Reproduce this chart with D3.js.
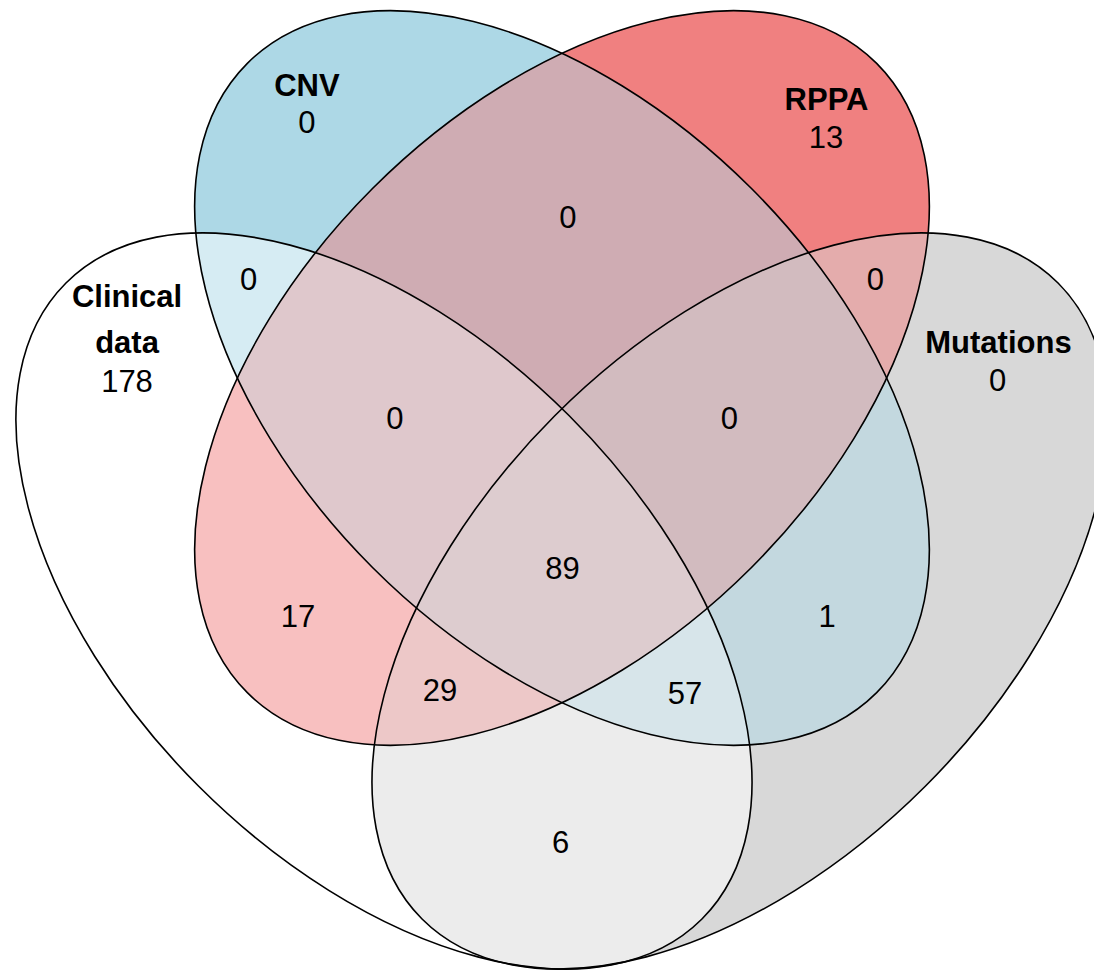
<!DOCTYPE html>
<html>
<head>
<meta charset="utf-8">
<title>Venn | D3</title>
<script src="https://d3js.org/d3.v7.min.js"></script>
<style>
body { margin: 0; background: #fff; }
text { font-family: "Liberation Sans", Arial, Helvetica, sans-serif; fill: #000; }
.setname { font-weight: bold; }
</style>
</head>
<body>
<script>
// data
var setNames = ["Clinical data", "CNV", "RPPA", "Mutations"];
var setColors = ["#ffffff", "#add8e6", "#f08080", "#d8d8d8"];
var regionSets = [
  [0], [1], [2], [3],
  [0, 1], [1, 2], [2, 3], [0, 2], [1, 3], [0, 3],
  [0, 1, 2], [1, 2, 3], [0, 2, 3], [0, 1, 3],
  [0, 1, 2, 3]
];
var regionCounts = [178, 0, 13, 0, 0, 0, 0, 17, 1, 6, 0, 0, 29, 57, 89];

// layout (unit space)
var shapes = [
  {cx: 0.3416, cy: 0.5347, a: 0.4001, b: 0.2331, rot: 45},
  {cx: 0.5000, cy: 0.3363, a: 0.3959, b: 0.2384, rot: 45},
  {cx: 0.5000, cy: 0.3363, a: 0.3959, b: 0.2384, rot: 135},
  {cx: 0.6584, cy: 0.5347, a: 0.4001, b: 0.2331, rot: 135}
];
var countPos = [
  [0.1130, 0.3488], [0.2731, 0.1183], [0.7349, 0.1317], [0.8875, 0.3476],
  [0.2212, 0.2580], [0.5053, 0.2028], [0.7789, 0.2580], [0.2651, 0.5578], [0.7358, 0.5578], [0.4987, 0.7586],
  [0.3514, 0.3817], [0.6490, 0.3817], [0.3915, 0.6237], [0.6094, 0.6263],
  [0.5004, 0.5151]
];
var namePos = [
  [[0.1130, 0.2731], [0.1130, 0.3141]],
  [[0.2731, 0.0854]],
  [[0.7353, 0.0979]],
  [[0.8883, 0.3138]]
];
var nameLines = [["Clinical", "data"], ["CNV"], ["RPPA"], ["Mutations"]];

var width = 1094;
var height = 971;
var x = d3.scaleLinear().domain([0, 1]).range([0, 1124]);
var y = d3.scaleLinear().domain([0, 1]).range([0, 1124]);
var len = d3.scaleLinear().domain([0, 1]).range([0, 1124]);

var svg = d3.select("body")
  .append("svg")
  .attr("width", width)
  .attr("height", height);

function shapeAttrs(sel) {
  sel.attr("cx", 0).attr("cy", 0)
    .attr("rx", function(d) { return len(d.a); })
    .attr("ry", function(d) { return len(d.b); })
    .attr("transform", function(d) {
      return "translate(" + x(d.cx) + "," + y(d.cy) + ") rotate(" + d.rot + ")";
    });
}

var defs = svg.append("defs");
defs.selectAll("clipPath")
  .data(shapes)
  .enter()
  .append("clipPath")
  .attr("id", function(d, i) { return "clip" + i; })
  .append("ellipse")
  .call(shapeAttrs);

function mixColor(sets) {
  var r = 0, g = 0, b = 0;
  sets.forEach(function(s) {
    var c = d3.rgb(setColors[s]);
    r += c.r; g += c.g; b += c.b;
  });
  var n = sets.length;
  return d3.rgb(r / n, g / n, b / n).formatHex();
}

// paint intersections from low to high order, each clipped by its sets
var fills = svg.append("g");
regionSets.forEach(function(sets) {
  var parent = fills;
  for (var k = 0; k < sets.length - 1; k++) {
    parent = parent.append("g").attr("clip-path", "url(#clip" + sets[k] + ")");
  }
  parent.append("ellipse")
    .datum(shapes[sets[sets.length - 1]])
    .call(shapeAttrs)
    .attr("fill", mixColor(sets))
    .attr("stroke", "none");
});

svg.append("g")
  .selectAll("ellipse")
  .data(shapes)
  .enter()
  .append("ellipse")
  .call(shapeAttrs)
  .attr("fill", "none")
  .attr("stroke", "#000")
  .attr("stroke-width", 1.6);

svg.append("g")
  .selectAll("text")
  .data(regionCounts)
  .enter()
  .append("text")
  .attr("x", function(d, i) { return x(countPos[i][0]); })
  .attr("y", function(d, i) { return y(countPos[i][1]); })
  .attr("text-anchor", "middle")
  .attr("font-size", 31)
  .text(function(d) { return d; });

var names = svg.append("g");
setNames.forEach(function(name, i) {
  nameLines[i].forEach(function(line, j) {
    names.append("text")
      .attr("class", "setname")
      .attr("x", x(namePos[i][j][0]))
      .attr("y", y(namePos[i][j][1]))
      .attr("text-anchor", "middle")
      .attr("font-size", 31)
      .text(line);
  });
});
</script>
</body>
</html>
